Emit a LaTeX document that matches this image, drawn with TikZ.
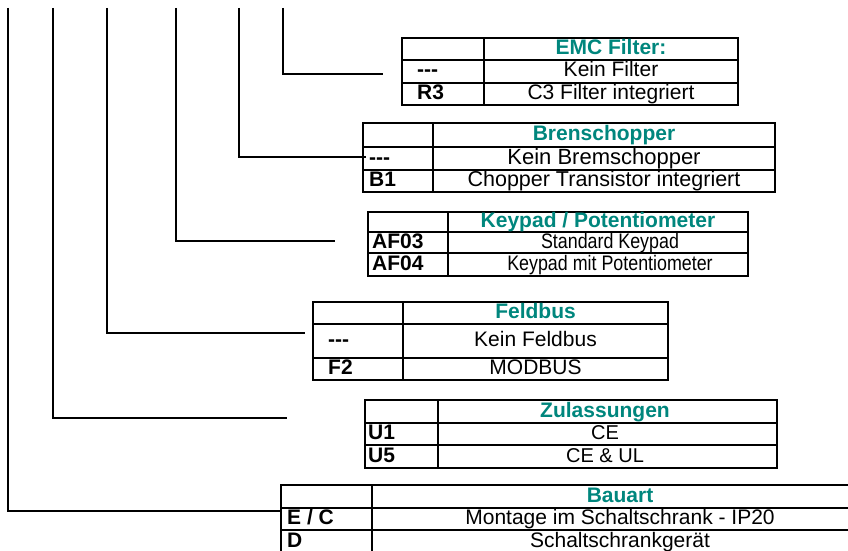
\documentclass[tikz,border=0pt]{standalone}
\usepackage{fontspec}
\setmainfont{Liberation Sans}
\newfontfamily\narrowfont{Liberation Sans}[FakeStretch=0.85]
\definecolor{headteal}{RGB}{0,134,125}

\begin{document}
\begin{tikzpicture}[x=1pt, y=-1pt,
  tab/.style={line width=1.6pt},
  lead/.style={line width=1.1pt},
  cell/.style={inner sep=0pt, text height=15pt, text depth=4pt, font=\fontsize{21}{24}\selectfont},
  head/.style={cell, text=headteal, font=\fontsize{21}{24}\selectfont\bfseries},
  code/.style={cell, anchor=west, font=\fontsize{21}{24}\selectfont\bfseries},
  desc/.style={cell, font=\fontsize{#1}{24}\selectfont},
  desc/.default=21]
  \clip (0,0) rectangle (848,551);
  % leader lines
  \foreach \n/\x/\y/\e in {bau/8/511/280, zul/53/418/287, bus/107/333/305,
      key/176/241/335, brk/239/157/366, emc/283/74/383} {
    \coordinate (\n top) at (\x,8);
    \coordinate (\n end) at (\e,\y);
    \draw[lead] (\n top) |- (\n end);
  }
  % EMC Filter
  \draw[tab] (402,38) rectangle (738,105) (402,60) -- (738,60) (402,83) -- (738,83) (484,38) -- (484,105);
  \node[head] (emcH) at (611,49) {EMC Filter:};
  \node[code] (emc1) at (417,71.5) {-{}-{}-};
  \node[desc] (emc1t) at (611,71.5) {Kein Filter};
  \node[code] (emc2) at (417,94) {R3};
  \node[desc] (emc2t) at (611,94) {C3 Filter integriert};
  % Bremschopper
  \draw[tab] (363,123) rectangle (775,192) (363,147) -- (775,147) (363,170) -- (775,170) (433,123) -- (433,192);
  \node[head] (brkH) at (604,135) {Brenschopper};
  \node[code] (brk1) at (369,158.5) {-{}-{}-};
  \node[desc=22] (brk1t) at (604,158.5) {Kein Bremschopper};
  \node[code] (brk2) at (369,181) {B1};
  \node[desc=21.5] (brk2t) at (604,181) {Chopper Transistor integriert};
  % Keypad / Potentiometer
  \draw[tab] (368,212) rectangle (748,276) (368,232) -- (748,232) (368,253) -- (748,253) (448,212) -- (448,276);
  \node[head] (keyH) at (598,222) {Keypad / Potentiometer};
  \node[code] (key1) at (372,242.5) {AF03};
  \node[cell, font=\fontsize{21}{24}\narrowfont] (key1t) at (610,242.5) {Standard Keypad};
  \node[code] (key2) at (372,264.5) {AF04};
  \node[cell, font=\fontsize{21}{24}\narrowfont] (key2t) at (610,264.5) {Keypad mit Potentiometer};
  % Feldbus
  \draw[tab] (313,302) rectangle (668,380) (313,324) -- (668,324) (313,358) -- (668,358) (403,302) -- (403,380);
  \node[head] (busH) at (535.5,313) {Feldbus};
  \node[code] (bus1) at (328,341) {-{}-{}-};
  \node[desc] (bus1t) at (535.5,341) {Kein Feldbus};
  \node[code] (bus2) at (328,369) {F2};
  \node[desc] (bus2t) at (535.5,369) {MODBUS};
  % Zulassungen
  \draw[tab] (365,400) rectangle (777,468) (365,423) -- (777,423) (365,445) -- (777,445) (438,400) -- (438,468);
  \node[head] (zulH) at (605,411.5) {Zulassungen};
  \node[code] (zul1) at (368,434) {U1};
  \node[desc=20] (zul1t) at (605,434) {CE};
  \node[code] (zul2) at (368,456.5) {U5};
  \node[desc=20] (zul2t) at (605,456.5) {CE \& UL};
  % Bauart
  \draw[tab] (281,485) rectangle (868,553) (281,508) -- (868,508) (281,530) -- (868,530) (372,485) -- (372,553);
  \node[head] (bauH) at (620,496.5) {Bauart};
  \node[code] (bau1) at (287,519) {E / C};
  \node[desc] (bau1t) at (620,519) {Montage im Schaltschrank - IP20};
  \node[code] (bau2) at (287,541.5) {D};
  \node[desc] (bau2t) at (620,541.5) {Schaltschrankgerät};
\end{tikzpicture}
\end{document}
